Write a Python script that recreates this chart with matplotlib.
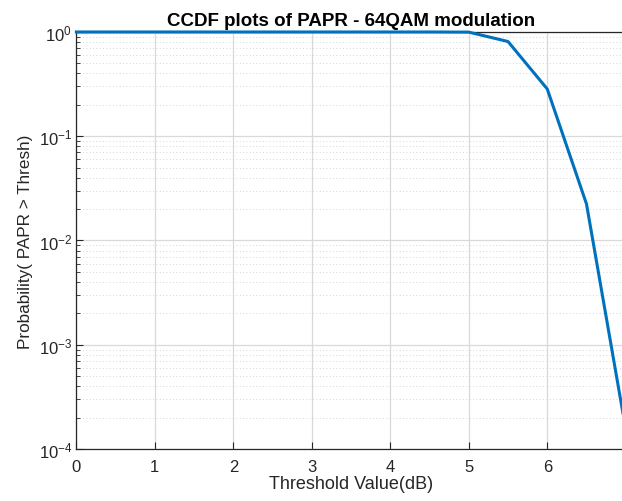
import matplotlib
matplotlib.use("Agg")
import matplotlib.pyplot as plt
from matplotlib.ticker import LogLocator, NullFormatter, FixedLocator

# --- data ---
thresh_db = [0, 0.5, 1, 1.5, 2, 2.5, 3, 3.5, 4, 4.5, 5, 5.5, 6, 6.5, 7]
ccdf = [1, 1, 1, 1, 1, 1, 1, 1, 1, 1, 0.997, 0.81, 0.284, 0.0224, 0.000155]
x_ticks = [0, 1, 2, 3, 4, 5, 6, 7]

plt.rcParams['font.family'] = ['Liberation Sans', 'DejaVu Sans']
plt.rcParams['mathtext.fontset'] = 'custom'
plt.rcParams['mathtext.rm'] = 'Liberation Sans'

txt = '#262626'
fig = plt.figure(figsize=(6.22, 5.02), dpi=100)
ax = fig.add_axes([0.1228, 0.1036, 0.8832, 0.8307])

ax.semilogy(thresh_db, ccdf, color='#0072BD', linewidth=2.2, zorder=5, clip_on=False)

ax.set_xlim(0, 7)
ax.set_ylim(1e-4, 1)
ax.xaxis.set_major_locator(FixedLocator(x_ticks))
ax.yaxis.set_major_locator(LogLocator(base=10, numticks=10))
ax.yaxis.set_minor_locator(LogLocator(base=10, subs=range(2, 10), numticks=20))
ax.yaxis.set_minor_formatter(NullFormatter())

ax.grid(True, which='major', color='#d9d9d9', linewidth=0.9)
ax.grid(True, which='minor', axis='y', color='#c8c8c8', linestyle=(0, (1, 3)), linewidth=0.6)
ax.set_axisbelow(True)

ax.tick_params(which='both', direction='in', colors=txt, labelsize=12)
ax.tick_params(which='major', length=5, width=0.8)
ax.tick_params(which='minor', length=3, width=0.6)
ax.tick_params(axis='x', pad=7)
ax.tick_params(axis='y', pad=3)
for s in ax.spines.values():
    s.set_color(txt)
    s.set_linewidth(0.9)

ax.set_title('CCDF plots of PAPR - 64QAM modulation', fontsize=13.5, fontweight='bold', color='black', pad=5)
ax.set_xlabel('Threshold Value(dB)', fontsize=13, color=txt, labelpad=1)
ax.set_ylabel('Probability( PAPR > Thresh)', fontsize=12.3, color=txt, labelpad=4)

fig.savefig('out.png', dpi=100)
